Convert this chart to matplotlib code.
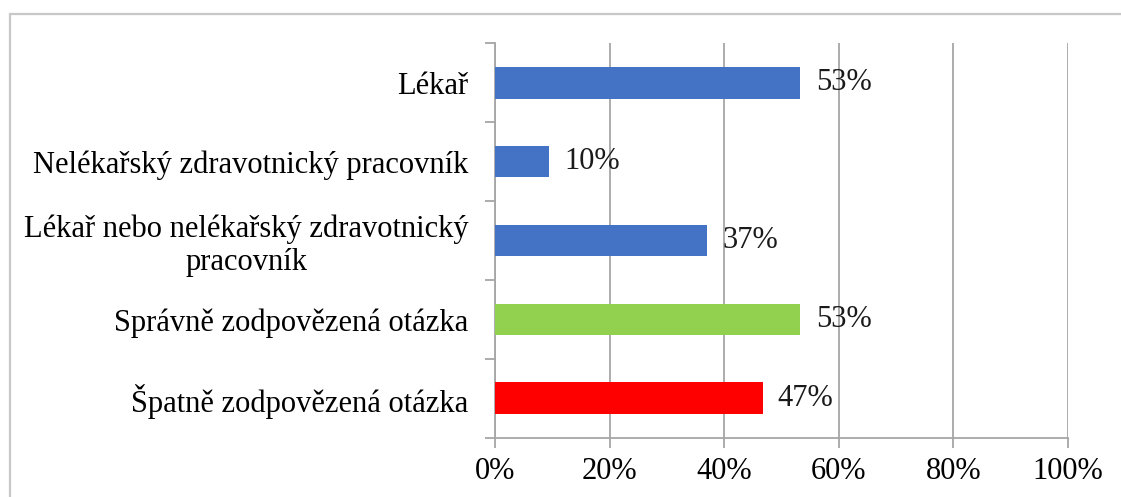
import matplotlib
matplotlib.use("Agg")
import matplotlib.pyplot as plt
from matplotlib.patches import Rectangle
from matplotlib.ticker import FixedLocator

categories = [
    "Lékař",
    "Nelékařský zdravotnický pracovník",
    "Lékař nebo nelékařský zdravotnický\npracovník",
    "Správně zodpovězená otázka",
    "Špatně zodpovězená otázka",
]
values = [53.3, 9.5, 37.0, 53.3, 46.7]
labels = ["53%", "10%", "37%", "53%", "47%"]
colors = ["#4472C4", "#4472C4", "#4472C4", "#92D050", "#FF0000"]
xticks = [0, 20, 40, 60, 80, 100]
xticklabels = ["0%", "20%", "40%", "60%", "80%", "100%"]

plt.rcParams["font.family"] = ["Liberation Serif", "DejaVu Serif"]
FS = 22
GRID = "#a6a6a6"

fig = plt.figure(figsize=(11.21, 4.97), dpi=100)
W, H = 1121, 497
# outer chart border (extends past the right and bottom edges)
fig.patches.append(Rectangle((9.5 / W, -0.1), 1.2, (H - 14.3) / H + 0.1,
                             transform=fig.transFigure, fill=False,
                             edgecolor="#c8c8c8", linewidth=1.6))

ax = fig.add_axes([495 / W, (H - 437.7) / H, (1068 - 495) / W, (437.7 - 43.3) / H])
pos = list(range(len(categories)))
ax.barh(pos, values, height=0.4, color=colors, zorder=3)
ax.set_xlim(0, 100)
ax.set_ylim(len(categories) - 0.5, -0.5)

ax.set_xticks(xticks)
ax.set_xticklabels(xticklabels, fontsize=FS)
ax.xaxis.grid(True, color=GRID, linewidth=1.3, zorder=0)
ax.tick_params(axis="x", length=7, width=1.3, color=GRID, pad=7)

ax.yaxis.set_major_locator(FixedLocator([p - 0.5 for p in pos] + [pos[-1] + 0.5]))
ax.yaxis.set_major_formatter(plt.NullFormatter())
ax.set_yticks(pos, minor=True)
ax.set_yticklabels(categories, minor=True, fontsize=FS, multialignment="center",
                   linespacing=1.16)
ax.tick_params(axis="y", which="major", length=7, width=1.3, color=GRID)
ax.tick_params(axis="y", which="minor", length=0, pad=19)

for side in ["top", "right"]:
    ax.spines[side].set_visible(False)
for side in ["left", "bottom"]:
    ax.spines[side].set_color(GRID)
    ax.spines[side].set_linewidth(1.3)

for p, v, lab in zip(pos, values, labels):
    ax.annotate(lab, (v, p), xytext=(11, 0), textcoords="offset points",
                va="center", ha="left", fontsize=FS, color="#1a1a1a", zorder=4)

fig.savefig("out.png", dpi=100)
